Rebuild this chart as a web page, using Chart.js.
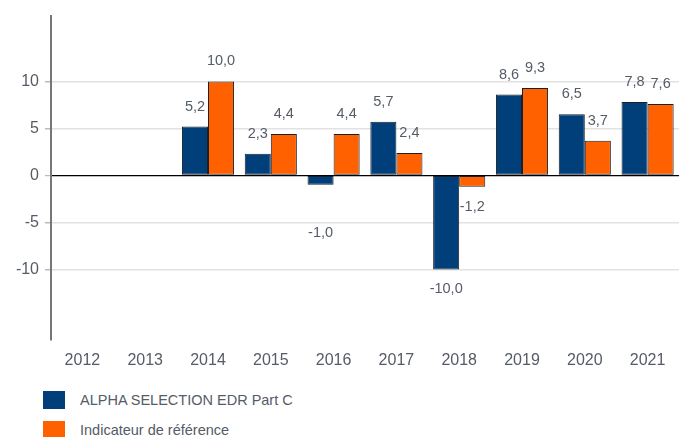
<!DOCTYPE html>
<html>
<head>
<meta charset="utf-8">
<script src="https://cdn.jsdelivr.net/npm/chart.js@4/dist/chart.umd.min.js"></script>
<style>
  html, body { margin: 0; padding: 0; background: #fff; }
  body { width: 679px; height: 437px; position: relative; overflow: hidden;
         font-family: "Liberation Sans", Arial, sans-serif; }
  #chart { position: absolute; left: 0; top: 0; }
  #legend { position: absolute; left: 43px; top: 385px; }
  .legend-item { display: flex; align-items: center; height: 30px; color: #555c66; font-size: 14.5px; }
  .legend-box { width: 22px; height: 18px; margin-right: 15px; }
</style>
</head>
<body>
<canvas id="chart" width="679" height="375"></canvas>
<div id="legend"></div>
<script>
const years     = ['2012', '2013', '2014', '2015', '2016', '2017', '2018', '2019', '2020', '2021'];
const fundPerf  = [null, null, 5.2, 2.3, -1.0, 5.7, -10.0, 8.6, 6.5, 7.8];
const benchPerf = [null, null, 10.0, 4.4, 4.4, 2.4, -1.2, 9.3, 3.7, 7.6];
const yTicks    = [-10, -5, 0, 5, 10];

const seriesNames  = ['ALPHA SELECTION EDR Part C', 'Indicateur de référence'];
const seriesColors = ['#003f7a', '#ff6000'];

// a couple of labels sit further out in the original
const labelNudge = { '0-4': 28 };

const textColor = '#555c66';
const fontFamily = '"Liberation Sans", Arial, sans-serif';

const valueLabels = {
  id: 'valueLabels',
  afterDatasetsDraw(chart) {
    const ctx = chart.ctx;
    ctx.save();
    ctx.font = '14.5px ' + fontFamily;
    ctx.fillStyle = textColor;
    ctx.textAlign = 'center';
    ctx.textBaseline = 'middle';
    chart.data.datasets.forEach((ds, di) => {
      const meta = chart.getDatasetMeta(di);
      meta.data.forEach((bar, i) => {
        const v = ds.data[i];
        if (v === null || v === undefined) return;
        const extra = labelNudge[di + '-' + i] || 0;
        const y = v >= 0 ? bar.y - 20 : bar.y + 20 + extra;
        ctx.fillText(v.toFixed(1).replace('.', ','), bar.x, y);
      });
    });
    ctx.restore();
  }
};

const chart = new Chart(document.getElementById('chart'), {
  type: 'bar',
  data: {
    labels: years,
    datasets: [
      { label: seriesNames[0], data: fundPerf,  backgroundColor: seriesColors[0],
        borderColor: '#1a2029', borderWidth: 1, borderSkipped: false },
      { label: seriesNames[1], data: benchPerf, backgroundColor: seriesColors[1],
        borderColor: '#1a2029', borderWidth: 1, borderSkipped: false }
    ]
  },
  options: {
    responsive: false,
    animation: false,
    layout: { padding: { top: 9, right: 0, left: 0, bottom: 0 } },
    datasets: { bar: { categoryPercentage: 0.83, barPercentage: 1 } },
    plugins: { legend: { display: false }, tooltip: { enabled: false } },
    scales: {
      x: {
        grid: { display: false },
        border: { display: false },
        ticks: { color: textColor, font: { size: 16, family: fontFamily }, padding: 3 },
        afterFit(scale) { scale.height = 35; }
      },
      y: {
        min: -17.5,
        max: 17,
        afterBuildTicks(scale) { scale.ticks = yTicks.map(v => ({ value: v })); },
        afterFit(scale) { scale.width = 51; },
        border: { display: true, color: '#777', width: 2 },
        grid: {
          color: c => c.tick && c.tick.value === 0 ? '#000' : '#e2e2e2',
          lineWidth: c => c.tick && c.tick.value === 0 ? 1.2 : 1.5,
          tickLength: 6,
          tickColor: '#bbb'
        },
        ticks: { color: textColor, font: { size: 16, family: fontFamily }, padding: 6 }
      }
    }
  },
  plugins: [valueLabels]
});

const legend = document.getElementById('legend');
legend.innerHTML = chart.data.datasets.map(ds => `
  <div class="legend-item">
    <span class="legend-box" style="background:${ds.backgroundColor}"></span>${ds.label}
  </div>`).join('');
</script>
</body>
</html>
